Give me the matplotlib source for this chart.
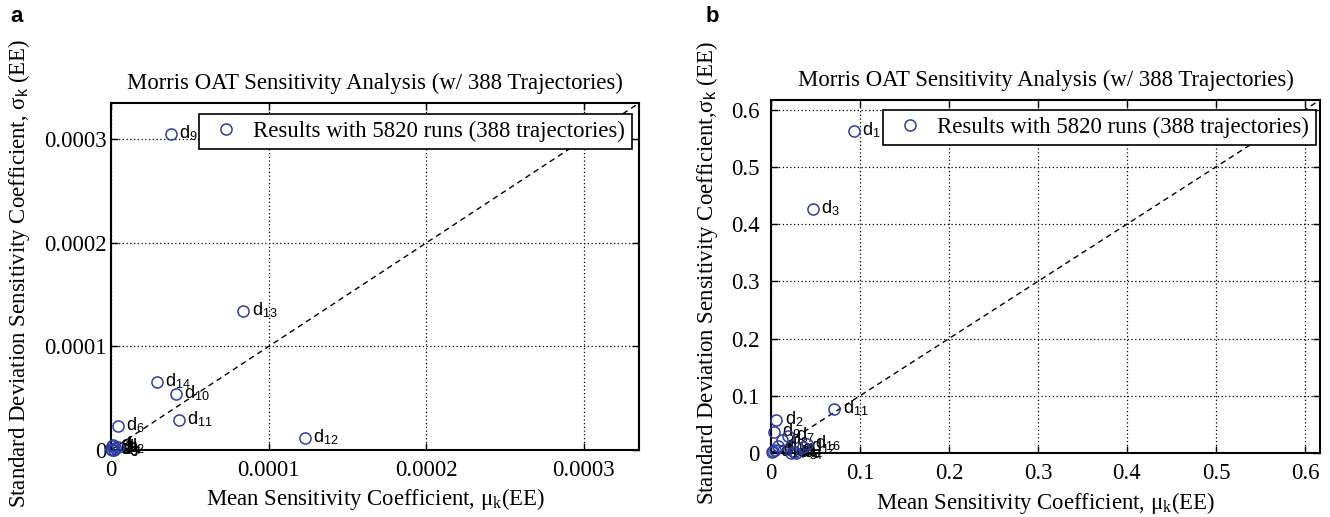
import matplotlib
matplotlib.use('Agg')
import matplotlib.pyplot as plt
from matplotlib import rcParams

rcParams['font.family'] = 'Liberation Serif'
rcParams['mathtext.fontset'] = 'custom'
rcParams['mathtext.rm'] = 'Liberation Serif'
rcParams['mathtext.it'] = 'Liberation Serif:italic'
rcParams['mathtext.sf'] = 'Liberation Sans'

# Panel a: 14 parameters
names_a = ['1', '2', '3', '4', '5', '6', '7', '8', '9', '10', '11', '12', '13', '14']
mu_a = [1.3e-6, 4.5e-6, 0.6e-6, 2.5e-6, 0.2e-6, 4.5e-6, 1.9e-6, 0.6e-6,
        3.8e-5, 4.1e-5, 4.3e-5, 1.23e-4, 8.4e-5, 2.9e-5]
sigma_a = [4.8e-6, 2.9e-6, 0.0, 1.9e-6, 1.0e-6, 2.3e-5, 0.3e-6, 3.8e-6,
           3.05e-4, 5.4e-5, 2.9e-5, 1.15e-5, 1.34e-4, 6.6e-5]
ticks_a = [0, 0.0001, 0.0002, 0.0003]
ticklabels_a = ['0', '0.0001', '0.0002', '0.0003']

# Panel b: 16 parameters
names_b = ['1', '2', '3', '4', '5', '6', '7', '8', '9', '10', '11', '12', '13', '14', '15', '16']
mu_b = [0.093, 0.006, 0.047, 0.028, 0.022, 0.026, 0.019, 0.012, 0.003, 0.008,
        0.071, 0.036, 0.002, 0.001, 0.004, 0.040]
sigma_b = [0.562, 0.058, 0.426, 0.0, 0.0, 0.002, 0.030, 0.023, 0.037, 0.012,
           0.077, 0.010, 0.004, 0.002, 0.006, 0.015]
ticks_b = [0, 0.1, 0.2, 0.3, 0.4, 0.5, 0.6]
ticklabels_b = ['0', '0.1', '0.2', '0.3', '0.4', '0.5', '0.6']

title = 'Morris OAT Sensitivity Analysis (w/ 388 Trajectories)'
legend_label = 'Results with 5820 runs (388 trajectories)'
xlabel = 'Mean Sensitivity Coefficient, μ$_\\mathrm{k}$(EE)'
ylabel_a = 'Standard Deviation Sensitivity Coefficient, σ$_\\mathsf{k}$ (EE)'
ylabel_b = 'Standard Deviation Sensitivity Coefficient,σ$_\\mathsf{k}$ (EE)'

FS = 16.4
BLUE = '#2c3ea3'

fig = plt.figure(figsize=(13.3, 5.17), dpi=100)
ax_a = fig.add_axes([0.0835, 0.1296, 0.397, 0.671])
ax_b = fig.add_axes([0.5797, 0.1238, 0.4128, 0.6828])


def draw(ax, names, mu, sigma, ticks, ticklabels, lim, ylabel, ypad, ylab_x, leg_anchor):
    ax.set_xlim(0, lim)
    ax.set_ylim(0, lim)
    ax.plot([0, lim], [0, lim], color='black', lw=1, linestyle=(0, (4, 3)))
    ax.plot(mu, sigma, 'o', mfc='none', mec=BLUE, mew=1.1, ms=8,
            clip_on=False, zorder=5, label=legend_label)
    for n, x, y in zip(names, mu, sigma):
        ax.annotate('$\\mathsf{d}_{\\mathsf{' + n + '}}$', (x, y), xytext=(6, -3),
                    textcoords='offset points', fontsize=13, va='baseline',
                    annotation_clip=False)
    ax.set_xticks(ticks)
    ax.set_xticklabels(ticklabels)
    ax.set_yticks(ticks)
    ax.set_yticklabels(ticklabels)
    ax.grid(True, color='black', lw=0.9, linestyle=(0, (1, 2)))
    ax.tick_params(direction='in', length=5, width=1, top=True, right=True,
                   labelsize=FS)
    ax.tick_params(axis='x', pad=7)
    ax.tick_params(axis='y', pad=ypad)
    for s in ax.spines.values():
        s.set_linewidth(1.5)
    ax.set_title(title, fontsize=FS, pad=10)
    ax.set_xlabel(xlabel, fontsize=FS)
    ax.xaxis.set_label_coords(0.5, -0.105)
    ax.set_ylabel(ylabel, fontsize=FS)
    ax.yaxis.set_label_coords(ylab_x, 0.51)
    leg = ax.legend(loc='upper right', bbox_to_anchor=leg_anchor, borderaxespad=0,
                    fontsize=FS, fancybox=False, edgecolor='black', framealpha=1,
                    handlelength=1.8, handletextpad=0.3, borderpad=0.3)
    leg.get_frame().set_linewidth(1.2)


draw(ax_a, names_a, mu_a, sigma_a, ticks_a, ticklabels_a, 0.000335,
     ylabel_a, 3, -0.15, (0.987, 0.968))
draw(ax_b, names_b, mu_b, sigma_b, ticks_b, ticklabels_b, 0.617,
     ylabel_b, 8, -0.092, (0.993, 0.972))

fig.text(17 / 1330, 1 - 17 / 517, 'a', family='Liberation Sans', weight='bold',
         fontsize=16, ha='center', va='center')
fig.text(712 / 1330, 1 - 17 / 517, 'b', family='Liberation Sans', weight='bold',
         fontsize=16, ha='center', va='center')

fig.savefig('out.png', dpi=100)
